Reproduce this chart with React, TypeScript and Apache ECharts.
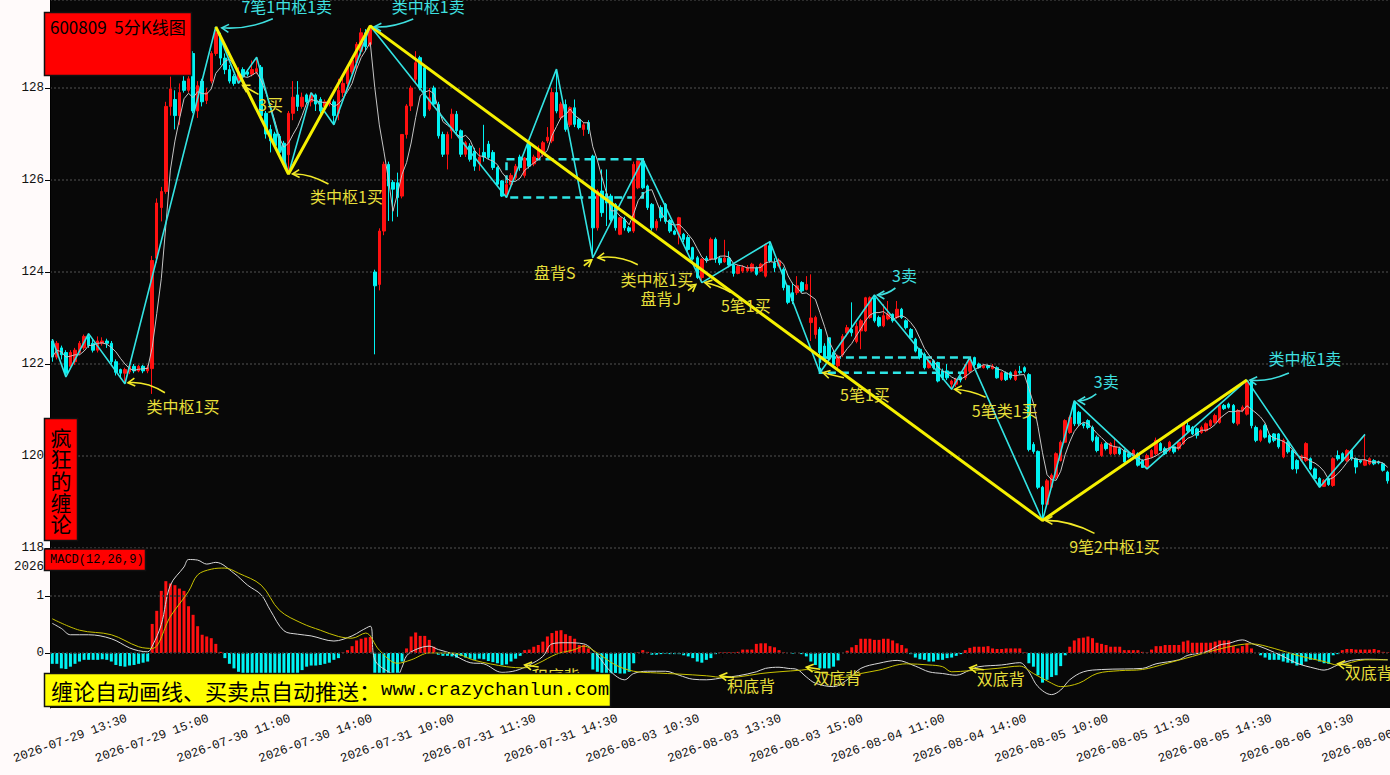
import React, { useEffect, useRef } from 'react';
import * as echarts from 'echarts';

// ---------- categories (5-minute bars) ----------
const tradingDays = ['2026-07-29', '2026-07-30', '2026-07-31', '2026-08-03', '2026-08-04', '2026-08-05', '2026-08-06'];
const firstBarTime = '13:10';
const lastBarTime = '13:40';
function hm(m: number) {
  const h = Math.floor(m / 60);
  const mm = m % 60;
  return `${String(h).padStart(2, '0')}:${String(mm).padStart(2, '0')}`;
}
const sessionTimes: string[] = [];
for (let m = 9 * 60 + 35; m <= 11 * 60 + 30; m += 5) sessionTimes.push(hm(m));
for (let m = 13 * 60 + 5; m <= 15 * 60; m += 5) sessionTimes.push(hm(m));
const categories: string[] = [];
tradingDays.forEach((d, di) => {
  sessionTimes.forEach((t) => {
    if (di === 0 && t < firstBarTime) return;
    if (di === tradingDays.length - 1 && t > lastBarTime) return;
    categories.push(`${d} ${t}`);
  });
});
const labelStart = 4;
const labelEvery = 18;

// ---------- candles: [open, close, low, high] ----------
const ohlc: number[][] = [
  [122.5,122.15,122.05,122.54],[122.15,122.45,122.1,122.5],[122.35,122.2,122.1,122.4],[122.25,121.8,121.72,122.3],
  [121.95,122.25,121.9,122.3],[122.05,122.3,121.98,122.35],[122.25,122.45,122.2,122.5],[122.35,122.6,122.3,122.64],
  [122.6,122.4,122.35,122.66],[122.45,122.3,122.25,122.55],[122.3,122.5,122.25,122.6],[122.45,122.5,122.4,122.58],
  [122.5,122.45,122.35,122.55],[122.45,122.05,122.0,122.5],[122.05,121.82,121.75,122.1],[121.88,121.8,121.7,121.9],
  [121.8,121.88,121.57,121.92],[121.83,121.95,121.78,122.0],[121.95,121.85,121.8,122.0],[121.85,121.95,121.82,121.98],
  [121.95,121.85,121.8,121.98],[121.85,121.92,121.8,121.98],[121.9,124.25,121.35,124.35],[124.3,125.5,124.2,125.6],
  [125.4,125.75,125.1,125.85],[125.75,127.6,125.7,127.7],[127.6,127.98,127.4,128.25],[127.75,127.4,127.1,127.95],
  [127.4,127.9,127.2,128.1],[128.15,127.95,127.9,128.3],[127.95,128.2,127.9,128.45],[128.75,127.5,127.45,128.8],
  [127.5,128.05,127.35,128.15],[128.15,127.7,127.6,128.2],[127.73,127.9,127.65,128.0],[128.15,128.75,128.1,128.8],
  [128.75,129.2,128.7,129.33],[129.1,128.65,128.5,129.2],[128.65,128.4,128.3,128.75],[128.4,128.15,128.1,128.5],
  [128.25,128.1,128.05,128.3],[128.15,128.35,128.1,128.45],[128.4,128.25,128.2,128.45],[128.35,128.3,128.25,128.4],
  [128.3,128.4,128.25,128.6],[128.35,128.42,128.3,128.67],[128.45,127.4,127.3,128.5],[127.45,127.0,126.9,127.5],
  [127.1,126.85,126.6,127.2],[127.0,126.75,126.7,127.05],[126.95,126.6,126.5,127.0],[126.8,126.35,126.3,126.85],
  [126.55,127.45,126.13,127.5],[127.45,127.8,127.3,128.15],[127.85,127.6,127.5,128.15],[127.6,127.8,127.55,127.9],
  [127.85,127.7,127.65,127.88],[127.7,127.85,127.6,127.9],[127.85,127.65,127.5,127.88],[127.75,127.5,127.4,127.8],
  [127.6,127.7,127.55,127.75],[127.65,127.72,127.6,127.78],[127.7,127.4,127.2,127.75],[127.45,127.95,127.3,128.2],
  [127.9,128.1,127.8,128.3],[128.1,128.45,128.0,128.5],[128.35,128.6,128.3,128.65],[128.55,128.95,128.4,129.0],
  [128.8,129.2,128.7,129.3],[129.2,128.9,128.8,129.28],[128.95,129.3,128.9,129.35],[124.0,123.7,122.21,124.05],
  [123.73,124.89,123.6,124.95],[124.89,126.34,124.8,126.4],[126.34,125.87,125.11,126.4],[125.95,125.8,125.1,126.0],
  [125.94,125.62,125.2,126.16],[125.65,126.99,125.6,127.0],[126.99,127.61,126.9,127.65],[127.61,128.0,127.5,128.05],
  [128.19,128.55,128.1,128.8],[128.66,128.0,127.95,128.7],[128.44,127.39,127.35,128.5],[127.54,127.79,127.5,128.0],
  [128.0,127.65,127.6,128.05],[127.64,126.96,126.9,127.7],[126.99,126.56,126.5,127.05],[126.56,126.99,126.23,127.05],
  [127.07,127.43,126.9,127.55],[127.43,127.07,127.0,127.5],[127.07,126.56,126.5,127.1],[126.56,126.81,126.5,126.85],
  [126.74,126.45,126.4,126.8],[126.63,126.3,126.2,126.7],[126.35,126.5,126.2,126.7],[126.6,126.5,126.4,127.2],
  [126.78,126.49,126.45,126.85],[126.6,126.27,126.22,126.65],[126.27,125.91,125.88,126.3],[125.98,125.65,125.63,126.0],
  [125.68,125.9,125.62,126.0],[125.9,126.1,125.85,126.15],[126.05,126.3,126.0,126.35],[126.5,126.27,126.2,126.55],
  [126.1,126.48,126.05,126.5],[126.78,126.3,126.25,126.8],[126.35,126.5,126.3,126.55],[126.49,126.67,126.45,126.75],
  [126.56,126.81,126.5,126.85],[126.85,126.93,126.8,127.15],[126.85,127.9,126.8,128.0],[127.9,127.5,127.45,128.41],
  [127.35,127.65,127.3,127.7],[127.64,127.1,127.05,127.75],[127.2,127.57,127.15,127.6],[127.57,127.21,127.15,127.75],
  [127.32,127.14,127.1,127.35],[127.1,127.2,126.96,127.25],[127.25,127.1,127.0,127.3],[126.52,124.96,124.31,126.55],
  [124.96,125.76,124.9,125.8],[125.76,125.29,125.2,126.23],[125.7,125.5,125.0,126.23],[125.65,125.14,125.1,125.7],
  [125.47,124.96,124.9,125.5],[124.82,125.18,124.8,125.2],[125.14,124.96,124.9,125.2],[124.96,124.89,124.85,125.0],
  [124.89,126.34,124.85,126.4],[125.83,126.41,125.8,126.42],[126.41,125.83,125.8,126.45],[125.87,125.4,125.35,125.9],
  [125.47,124.96,124.9,125.5],[124.96,125.1,124.9,125.15],[125.4,125.18,125.1,125.45],[125.47,125.1,125.05,125.5],
  [125.12,124.89,124.85,125.15],[124.89,124.82,124.8,124.92],[124.82,125.18,124.6,125.2],[124.82,124.71,124.65,124.85],
  [124.75,124.49,124.45,124.8],[124.53,124.28,124.25,124.55],[124.31,123.88,123.85,124.35],[123.88,124.28,123.77,124.3],
  [124.3,124.25,124.2,124.35],[124.28,124.71,124.25,124.75],[124.71,124.28,124.2,124.75],[124.3,124.2,124.15,124.35],
  [124.22,124.3,124.2,124.7],[124.3,124.15,124.1,124.45],[124.15,123.97,123.9,124.2],[123.97,124.12,123.95,124.15],
  [124.02,124.1,123.98,124.15],[124.03,124.1,124.0,124.15],[124.02,124.17,124.0,124.2],[124.09,123.95,123.92,124.12],
  [124.02,124.17,124.0,124.2],[123.91,124.6,123.88,124.62],[124.57,124.24,124.2,124.66],[124.2,124.09,124.0,124.3],
  [124.13,124.24,124.1,124.3],[124.06,123.66,123.6,124.1],[123.7,123.34,123.3,123.72],[123.55,123.37,123.3,123.77],
  [123.55,123.7,123.5,123.91],[123.77,123.59,123.55,123.8],[123.62,123.73,123.6,123.91],[122.9,123.0,122.5,123.95],
  [122.64,123.01,122.55,123.05],[122.75,122.25,121.81,122.8],[122.39,122.11,122.05,122.45],[122.57,122.11,122.05,122.57],
  [122.25,121.99,121.95,122.3],[121.96,122.17,121.9,122.2],[122.2,122.6,122.15,122.65],[122.68,122.79,122.6,122.85],
  [122.75,122.68,122.6,123.34],[122.49,122.82,122.45,122.9],[122.72,122.94,122.32,122.98],[122.72,123.44,122.7,123.46],
  [123.01,123.44,122.98,123.47],[123.44,122.94,122.9,123.5],[123.01,122.83,122.8,123.05],[122.83,123.05,122.8,123.3],
  [122.98,123.08,122.95,123.37],[123.08,122.94,122.9,123.1],[123.01,123.19,122.98,123.37],[123.19,123.01,122.98,123.22],
  [122.94,122.79,122.75,122.97],[122.75,122.57,122.55,122.78],[122.54,122.28,122.25,122.57],[122.32,122.14,122.1,122.35],
  [122.21,121.92,121.88,122.25],[121.92,122.07,121.9,122.1],[122.07,121.92,121.88,122.1],[122.03,121.63,121.6,122.05],
  [121.85,121.7,121.65,121.9],[121.85,121.7,121.65,122.0],[121.56,121.63,121.45,121.66],[121.56,121.67,121.5,121.7],
  [121.72,121.65,121.6,121.75],[121.7,121.99,121.65,122.0],[121.85,122.07,121.8,122.14],[122.14,121.99,121.95,122.16],
  [122.0,121.92,121.9,122.03],[121.92,121.96,121.9,122.0],[121.96,121.92,121.88,121.99],[121.9,121.95,121.88,122.0],
  [121.92,121.7,121.68,121.95],[121.66,121.81,121.63,121.84],[121.81,121.66,121.63,121.84],[121.81,121.7,121.66,121.84],
  [121.66,121.84,121.63,121.88],[121.84,121.81,121.77,121.96],[121.92,121.84,121.8,121.95],[121.77,120.14,120.1,121.8],
  [120.25,120.1,120.05,120.3],[120.1,119.32,119.28,120.12],[119.32,118.95,118.6,119.35],[118.95,119.46,118.9,119.5],
  [119.32,119.58,119.3,119.62],[119.54,120.05,119.5,120.08],[119.9,120.3,119.88,120.34],[120.3,120.77,120.28,120.8],
  [120.51,120.84,120.48,120.88],[121.17,120.7,120.65,121.2],[120.95,120.7,120.65,120.98],[120.7,120.66,120.6,120.73],
  [120.77,120.62,120.58,120.8],[120.62,120.34,120.3,120.66],[120.41,120.12,120.08,120.45],[120.01,120.25,119.98,120.3],
  [120.27,120.16,120.12,120.3],[120.05,120.27,120.02,120.3],[120.05,120.2,120.02,120.38],[120.16,120.05,120.02,120.2],
  [120.12,119.87,119.84,120.15],[120.05,119.98,119.95,120.08],[120.01,120.12,119.98,120.15],[120.05,119.8,119.77,120.08],
  [119.9,119.75,119.74,119.93],[119.76,120.01,119.72,120.05],[119.98,120.12,119.95,120.15],[120.05,120.34,120.02,120.4],
  [120.27,120.12,120.1,120.3],[120.16,120.05,120.02,120.2],[120.12,120.3,120.08,120.33],[120.2,120.09,120.05,120.23],
  [120.16,120.3,120.12,120.34],[120.27,120.7,120.24,120.73],[120.66,120.55,120.5,120.73],[120.62,120.48,120.45,120.65],
  [120.59,120.45,120.38,120.62],[120.51,120.62,120.48,120.66],[120.55,120.7,120.52,120.73],[120.66,120.77,120.62,120.8],
  [120.73,120.88,120.7,120.92],[120.73,121.1,120.7,121.13],[121.1,121.03,121.0,121.13],[121.13,121.06,121.03,121.16],
  [121.1,120.73,120.7,121.13],[120.7,120.99,120.66,121.02],[120.99,121.06,120.95,121.1],[120.91,121.63,120.88,121.65],
  [121.63,120.66,120.6,121.65],[120.62,120.34,120.3,120.66],[120.34,120.55,120.3,120.58],[120.66,120.41,120.38,120.7],
  [120.45,120.3,120.27,120.48],[120.48,120.34,120.3,120.5],[120.48,120.2,120.16,120.5],[119.98,120.34,119.95,120.38],
  [120.3,120.09,120.05,120.33],[120.12,119.72,119.7,120.15],[119.9,119.72,119.62,119.93],[119.9,120.0,119.87,120.03],
  [119.9,120.27,119.87,120.3],[119.94,119.72,119.69,119.97],[119.72,119.51,119.48,119.75],[119.51,119.35,119.32,119.54],
  [119.34,119.47,119.33,119.5],[119.51,119.38,119.35,119.54],[119.36,119.94,119.33,119.97],[120.01,119.94,119.9,120.12],
  [120.05,119.9,119.87,120.08],[119.9,120.12,119.87,120.15],[120.12,119.94,119.9,120.14],[119.94,119.76,119.62,119.97],
  [119.9,119.87,119.84,119.92],[119.8,119.9,119.78,120.47],[119.83,119.94,119.8,119.97],[119.9,119.83,119.8,119.93],
  [119.87,119.85,119.82,119.9],[119.83,119.69,119.66,119.86],[119.65,119.46,119.4,119.68],
];

// ---------- Chan-theory strokes (笔), segments (线段), centres (中枢) ----------
const biPoints: [number, number][] = [
  [0,122.54],[3,121.72],[8,122.66],[16,121.57],[36,129.33],[41,128.1],[45,128.67],[52,126.13],[57,127.9],[62,127.2],
  [70,129.35],[100,125.62],[111,128.41],[119,124.31],[130,126.45],[143,123.77],[158,124.66],[169,121.81],[181,123.5],
  [198,121.45],[202,122.14],[218,118.6],[225,121.2],[241,119.72],[263,121.65],[279,119.32],[289,120.47],
];
const segPoints: [number, number][] = [[36,129.33],[52,126.13],[70,129.35],[218,118.6],[263,121.65]];
const centerFrom = [100, 169];
const centerTo = [130, 202];
const centerLow = [125.62, 121.81];
const centerHigh = [126.45, 122.14];

// ---------- MACD(12,26,9) ----------
const macdHist: number[] = [
  -0.19,-0.19,-0.27,-0.28,-0.24,-0.19,-0.15,-0.12,-0.12,-0.12,-0.12,-0.11,-0.12,-0.15,-0.21,-0.23,-0.24,-0.22,-0.21,-0.19,-0.17,-0.15,
  0.51,0.74,1.09,1.26,1.22,1.19,1.13,1.09,0.82,0.67,0.47,0.32,0.29,0.26,0.16,0.02,
  -0.09,-0.19,-0.27,-0.33,-0.38,-0.42,-0.44,-0.46,-0.48,-0.48,-0.47,-0.45,-0.43,-0.4,-0.38,-0.36,-0.35,-0.3,-0.24,-0.22,-0.22,-0.21,-0.19,-0.17,-0.12,-0.09,
  0.01,0.05,0.12,0.22,0.25,0.27,0.28,
  -0.35,-0.5,-0.52,-0.48,-0.42,-0.35,-0.15,
  0.08,0.29,0.36,0.3,0.3,0.23,0.11,
  -0.03,-0.05,-0.05,-0.06,-0.08,-0.05,
  -0.08,-0.1,-0.12,-0.1,-0.11,-0.14,-0.16,-0.18,-0.21,-0.2,-0.15,-0.1,-0.05,
  0.05,0.06,0.11,0.14,0.2,0.29,0.35,0.39,0.4,0.33,0.3,0.25,0.14,0.14,0.08,
  -0.29,-0.33,-0.36,-0.39,-0.36,-0.35,-0.36,-0.36,-0.33,-0.18,
  0.01,0.05,0.02,
  -0.03,-0.03,-0.02,-0.01,-0.02,-0.02,-0.02,
  -0.04,-0.06,-0.09,-0.15,-0.17,-0.12,-0.09,-0.02,
  0.01,0.01,0.01,0.01,
  0.02,0.06,0.06,0.06,0.16,0.17,0.17,0.12,0.1,0.05,
  0.01,0.0,-0.01,0.0,-0.02,
  -0.06,-0.15,-0.21,-0.27,-0.27,-0.27,-0.24,-0.13,
  0.0,0.04,0.1,0.14,0.25,0.25,0.25,0.23,0.23,0.25,0.25,0.22,0.17,0.14,0.08,
  -0.02,-0.08,-0.11,-0.12,-0.15,-0.15,-0.12,-0.12,-0.09,-0.08,-0.05,-0.02,
  0.05,0.09,0.11,0.11,0.11,0.12,0.08,0.07,0.07,0.08,0.08,0.08,0.08,
  0.01,
  -0.18,-0.24,-0.39,-0.52,-0.47,-0.42,-0.39,-0.23,-0.04,
  0.11,0.22,0.26,0.27,0.29,0.26,0.18,0.16,0.14,0.11,0.11,0.11,0.05,0.05,0.05,0.05,0.02,0.01,0.06,0.12,
  0.12,0.14,0.14,0.14,0.14,0.2,0.22,0.18,0.18,0.18,0.18,0.18,0.2,0.22,0.22,0.22,0.12,0.08,0.12,0.17,0.08,
  0.0,
  -0.04,-0.08,-0.12,-0.12,-0.12,-0.15,-0.17,-0.18,-0.22,-0.21,-0.15,-0.12,-0.12,-0.15,-0.18,-0.19,-0.04,-0.02,
  0.05,0.07,0.07,0.06,0.06,0.06,0.06,0.07,0.05,0.02,
  0.01,
];
const difPoints: [number, number][] = [
  [0,0.52],[2,0.43],[4,0.32],[8,0.32],[13,0.25],[17,0.09],[19,0.04],[21,0.02],[22,0.12],[24,0.5],[26,1.19],[29,1.51],
  [30,1.64],[32,1.63],[34,1.56],[36,1.59],[40,1.4],[43,1.19],[46,1.02],[48,0.75],[51,0.39],[54,0.33],[57,0.3],[62,0.21],
  [66,0.3],[68,0.39],[70,0.47],[71,-0.12],[74,-0.33],[76,-0.38],[77,-0.25],[78,-0.05],[80,0.06],[83,0.12],[85,0.06],
  [88,-0.01],[89,-0.06],[92,-0.17],[95,-0.19],[99,-0.34],[102,-0.31],[105,-0.21],[108,-0.06],[110,0.16],[113,0.18],
  [117,0.16],[120,-0.04],[123,-0.33],[126,-0.47],[128,-0.36],[131,-0.32],[135,-0.32],[138,-0.39],[141,-0.46],[144,-0.47],
  [148,-0.43],[151,-0.4],[155,-0.33],[157,-0.27],[160,-0.25],[162,-0.27],[164,-0.29],[166,-0.42],[168,-0.53],[172,-0.59],
  [175,-0.47],[178,-0.27],[182,-0.18],[186,-0.13],[190,-0.23],[193,-0.33],[196,-0.36],[199,-0.39],[202,-0.3],[204,-0.24],
  [209,-0.21],[213,-0.17],[215,-0.33],[217,-0.59],[220,-0.73],[222,-0.65],[224,-0.47],[227,-0.33],[231,-0.29],[236,-0.28],
  [240,-0.27],[243,-0.19],[248,-0.12],[250,-0.04],[254,0.02],[257,0.14],[259,0.17],[262,0.23],[264,0.17],[267,0.08],
  [271,-0.06],[274,-0.18],[278,-0.27],[280,-0.3],[283,-0.21],[286,-0.13],[290,-0.11],[294,-0.12],
];
const deaPoints: [number, number][] = [
  [0,0.6],[6,0.4],[13,0.32],[19,0.11],[22,0.08],[26,0.64],[30,1.08],[32,1.37],[35,1.47],[38,1.49],[41,1.4],[46,1.19],
  [50,0.75],[55,0.52],[59,0.4],[63,0.29],[66,0.26],[69,0.35],[72,0.05],[76,-0.18],[79,-0.12],[83,0.0],[88,0.0],
  [93,-0.13],[100,-0.24],[104,-0.26],[107,-0.18],[111,-0.02],[115,0.06],[117,0.12],[120,0.0],[124,-0.21],[128,-0.32],
  [133,-0.35],[138,-0.37],[144,-0.4],[148,-0.43],[151,-0.42],[156,-0.36],[160,-0.33],[165,-0.3],[166,-0.29],[170,-0.36],
  [174,-0.43],[178,-0.36],[182,-0.3],[188,-0.19],[193,-0.21],[196,-0.24],[198,-0.33],[202,-0.31],[208,-0.27],[213,-0.23],
  [216,-0.36],[220,-0.53],[222,-0.59],[226,-0.53],[230,-0.36],[235,-0.31],[240,-0.29],[245,-0.19],[251,-0.06],[256,0.05],
  [261,0.14],[264,0.16],[269,0.08],[274,-0.04],[280,-0.15],[283,-0.21],[289,-0.12],[294,-0.12],
];

// ---------- annotations (anchor in data coords; offsets in px) ----------
type Ann = {
  text: string; color: string; grid: number; at: [number, number];
  t: [number, number]; tail: [number, number]; head: [number, number]; ctrl?: [number, number];
};
const YEL = '#e6df3a';
const YEL_ARROW = '#f2ea28';
const CYA = '#3fe0e0';
const annotations: Ann[] = [
  { text: '7笔1中枢1卖', color: CYA, grid: 0, at: [36, 129.33], t: [71, -21], tail: [57, -8], ctrl: [32, 3], head: [6, 1] },
  { text: '类中枢1卖', color: CYA, grid: 0, at: [70, 129.35], t: [58, -20], tail: [43, -7], ctrl: [22, 2], head: [4, 1] },
  { text: '3买', color: YEL, grid: 0, at: [41, 128.1], t: [32, 21], tail: [20, 11], head: [4, 2] },
  { text: '类中枢1买', color: YEL, grid: 0, at: [52, 126.13], t: [58, 22], tail: [40, 10], ctrl: [20, -1], head: [4, 0] },
  { text: '类中枢1买', color: YEL, grid: 0, at: [16, 121.57], t: [58, 22], tail: [40, 9], ctrl: [21, -3], head: [3, -1] },
  { text: '盘背S', color: YEL, grid: 0, at: [119, 124.31], t: [-38, 14], tail: [-9, 8], head: [-1, 2] },
  { text: '类中枢1买', color: YEL, grid: 0, at: [119, 124.31], t: [64, 21], tail: [45, 7], ctrl: [26, -3], head: [5, 0] },
  { text: '盘背J', color: YEL, grid: 0, at: [143, 123.77], t: [-41, 15], tail: [-14, 8], head: [-6, 2] },
  { text: '5笔1买', color: YEL, grid: 0, at: [143, 123.77], t: [44, 22], tail: [29, 10], ctrl: [17, 3], head: [3, 0] },
  { text: '3卖', color: CYA, grid: 0, at: [181, 123.5], t: [30, -20], tail: [21, -7], ctrl: [12, 0], head: [3, 0] },
  { text: '5笔1买', color: YEL, grid: 0, at: [169, 121.81], t: [45, 21], tail: [24, 5], head: [3, 0] },
  { text: '5笔类1买', color: YEL, grid: 0, at: [198, 121.45], t: [53, 21], tail: [34, 8], ctrl: [19, 1], head: [3, 0] },
  { text: '3卖', color: CYA, grid: 0, at: [225, 121.2], t: [32, -20], tail: [22, -7], ctrl: [13, 0], head: [4, 0] },
  { text: '9笔2中枢1买', color: YEL, grid: 0, at: [218, 118.6], t: [72, 26], tail: [52, 13], ctrl: [27, 0], head: [3, 0] },
  { text: '类中枢1卖', color: CYA, grid: 0, at: [263, 121.65], t: [58, -22], tail: [42, -7], ctrl: [22, 2], head: [3, 0] },
  { text: '积底背', color: YEL, grid: 1, at: [104, -0.21], t: [31, 10], tail: [14, 2], head: [0, 0] },
  { text: '积底背', color: YEL, grid: 1, at: [147, -0.4], t: [31, 9], tail: [14, 2], head: [0, 0] },
  { text: '双底背', color: YEL, grid: 1, at: [166, -0.25], t: [31, 10], tail: [14, 2], head: [0, 0] },
  { text: '双底背', color: YEL, grid: 1, at: [202, -0.26], t: [31, 10], tail: [14, 2], head: [0, 0] },
  { text: '双底背', color: YEL, grid: 1, at: [283, -0.19], t: [31, 8], tail: [14, 2], head: [0, 0] },
];

const CJK = '"Noto Sans CJK SC", "Noto Sans", sans-serif';
const MONO = '"Liberation Mono", "DejaVu Sans Mono", monospace';

function showLabel(index: number) {
  return index >= labelStart && (index - labelStart) % labelEvery === 0;
}

export default function App() {
  const ref = useRef<HTMLDivElement>(null);
  useEffect(() => {
    document.body.style.margin = '0';
    if (!ref.current) return;
    const chart = echarts.init(ref.current, undefined, { renderer: 'svg' });
    const n = Math.min(categories.length, ohlc.length);
    const cats = categories.slice(0, n);
    const candles = ohlc.slice(0, n);
    const closes = candles.map((r) => r[1]);
    const ma5 = closes.map((_, i) => {
      const s = closes.slice(Math.max(0, i - 4), i + 1);
      return +(s.reduce((a, b) => a + b, 0) / s.length).toFixed(3);
    });

    const option: any = {
      animation: false,
      backgroundColor: 'transparent',
      grid: [
        { left: 50, right: 0, top: 0, height: 548, outerBoundsMode: 'none', containLabel: false },
        { left: 50, right: 0, top: 548, height: 160, outerBoundsMode: 'none', containLabel: false },
      ],
      xAxis: [
        {
          type: 'category', gridIndex: 0, data: cats,
          axisLine: { show: false }, axisTick: { show: false }, axisLabel: { show: false }, splitLine: { show: false },
        },
        {
          type: 'category', gridIndex: 1, data: cats,
          axisLine: { show: true, lineStyle: { color: '#000', width: 1 } },
          axisTick: { show: true, interval: (i: number) => showLabel(i), length: 5, lineStyle: { color: '#000' } },
          axisLabel: {
            interval: (i: number) => showLabel(i), rotate: 20, align: 'center', verticalAlign: 'middle', margin: 31,
            color: '#111', fontSize: 12.5, fontFamily: MONO,
          },
          splitLine: { show: false },
        },
      ],
      yAxis: [
        {
          type: 'value', gridIndex: 0, min: 118, max: 129.913, interval: 2, position: 'left',
          axisLine: { show: true, lineStyle: { color: '#000' } },
          axisTick: { show: true, length: 5, lineStyle: { color: '#000' } },
          axisLabel: { color: '#111', fontSize: 12.5, fontFamily: MONO, margin: 6, showMaxLabel: false },
          splitLine: { show: true, lineStyle: { color: '#3a3a3a', type: [2, 2], width: 1.5 } },
        },
        {
          type: 'value', gridIndex: 1, min: -0.965, max: 1.842, position: 'left',
          axisLine: { show: true, lineStyle: { color: '#000' } },
          axisTick: { show: true, length: 5, customValues: [0, 1, 1.5], lineStyle: { color: '#000' } },
          axisLabel: {
            customValues: [0, 1, 1.5], color: '#111', fontSize: 12.5, fontFamily: MONO, margin: 6,
            formatter: (v: number) => (Math.abs(v - 1.5) < 1e-6 ? '2026' : String(Math.round(v))),
          },
          splitLine: { show: false },
        },
      ],
      series: [
        {
          type: 'candlestick', xAxisIndex: 0, yAxisIndex: 0, data: candles, barWidth: 3, z: 2,
          itemStyle: { color: '#ff1010', color0: '#00f2f2', borderColor: '#ff1010', borderColor0: '#00f2f2', borderWidth: 1 },
          markArea: {
            silent: true,
            itemStyle: { color: 'rgba(0,0,0,0)', borderColor: '#2ee6e6', borderWidth: 2.5, borderType: [8, 5] },
            data: centerFrom.map((f, k) => [
              { coord: [f, centerHigh[k]] },
              { coord: [centerTo[k], centerLow[k]] },
            ]),
          },
        },
        {
          type: 'line', xAxisIndex: 0, yAxisIndex: 0, data: ma5, symbol: 'none', z: 3,
          lineStyle: { color: '#c4c4c4', width: 1 },
        },
        {
          type: 'line', xAxisIndex: 0, yAxisIndex: 0, data: biPoints, symbol: 'none', z: 4,
          lineStyle: { color: '#33e3e3', width: 1.6 },
        },
        {
          type: 'line', xAxisIndex: 0, yAxisIndex: 0, data: segPoints, symbol: 'none', z: 5,
          lineStyle: { color: '#f5f000', width: 3 },
        },
        {
          type: 'bar', xAxisIndex: 1, yAxisIndex: 1, data: macdHist.slice(0, n), barWidth: 3, z: 2,
          itemStyle: { color: (p: any) => (p.value >= 0 ? '#ff1010' : '#00f2f2') },
          markLine: {
            silent: true, symbol: 'none', label: { show: false },
            lineStyle: { color: '#3a3a3a', type: [2, 2], width: 1.5 },
            data: [{ yAxis: 0 }, { yAxis: 1 }],
          },
        },
        {
          type: 'line', xAxisIndex: 1, yAxisIndex: 1, data: difPoints, symbol: 'none', smooth: 0.35, z: 3,
          lineStyle: { color: '#d8d8d8', width: 1 },
        },
        {
          type: 'line', xAxisIndex: 1, yAxisIndex: 1, data: deaPoints, symbol: 'none', smooth: 0.35, z: 3,
          lineStyle: { color: '#c9c300', width: 1 },
        },
      ],
    };
    chart.setOption(option);

    const graphics: any[] = [];
    graphics.push({
      type: 'rect', silent: true, z: -100,
      shape: { x: 50, y: 0, width: 1340, height: 708 }, style: { fill: '#080808' },
    });

    annotations.forEach((a) => {
      const p = chart.convertToPixel({ gridIndex: a.grid } as any, a.at) as number[];
      if (!p) return;
      const [px, py] = p;
      const hx = px + a.head[0], hy = py + a.head[1];
      const tx = px + a.tail[0], ty = py + a.tail[1];
      const c = a.ctrl ? [px + a.ctrl[0], py + a.ctrl[1]] : [(hx + tx) / 2, (hy + ty) / 2];
      const arrowColor = a.color === YEL ? YEL_ARROW : a.color;
      graphics.push({
        type: 'bezierCurve', silent: true, z: 50,
        shape: { x1: tx, y1: ty, x2: hx, y2: hy, cpx1: c[0], cpy1: c[1] },
        style: { stroke: arrowColor, lineWidth: 1.6, fill: 'none' },
      });
      let dx = hx - c[0], dy = hy - c[1];
      const len = Math.hypot(dx, dy) || 1;
      dx /= len; dy /= len;
      const L = 8, ang = (30 * Math.PI) / 180;
      const bx = -dx, by = -dy;
      const p1 = [hx + L * (bx * Math.cos(ang) - by * Math.sin(ang)), hy + L * (bx * Math.sin(ang) + by * Math.cos(ang))];
      const p2 = [hx + L * (bx * Math.cos(-ang) - by * Math.sin(-ang)), hy + L * (bx * Math.sin(-ang) + by * Math.cos(-ang))];
      graphics.push({
        type: 'polyline', silent: true, z: 50,
        shape: { points: [p1, [hx, hy], p2] },
        style: { stroke: arrowColor, lineWidth: 1.6, fill: 'none' },
      });
      graphics.push({
        type: 'text', silent: true, z: 51, x: px + a.t[0], y: py + a.t[1],
        style: { text: a.text, fill: a.color, fontSize: 16, fontFamily: CJK, align: 'center', verticalAlign: 'middle' },
      });
    });

    // title box
    graphics.push({
      type: 'rect', silent: true, z: 60,
      shape: { x: 44.5, y: 12.5, width: 147, height: 63 },
      style: { fill: '#ff0000', stroke: '#111', lineWidth: 1.5 },
    });
    graphics.push({
      type: 'text', silent: true, z: 61, x: 50, y: 26,
      style: { text: '600809  5分K线图', fill: '#000', fontSize: 17, fontFamily: CJK, verticalAlign: 'middle' },
    });
    // vertical box
    graphics.push({
      type: 'rect', silent: true, z: 60,
      shape: { x: 44.5, y: 418.5, width: 33, height: 122 },
      style: { fill: '#ff0000', stroke: '#111', lineWidth: 1.5 },
    });
    graphics.push({
      type: 'text', silent: true, z: 61, x: 61, y: 426,
      style: { text: '疯\n狂\n的\n缠\n论', fill: '#000', fontSize: 21, lineHeight: 21.6, fontFamily: CJK, align: 'center', verticalAlign: 'top' },
    });
    // MACD label
    graphics.push({
      type: 'rect', silent: true, z: 60,
      shape: { x: 44.5, y: 549, width: 101, height: 21.5 },
      style: { fill: '#ff0000', stroke: '#111', lineWidth: 1.5 },
    });
    graphics.push({
      type: 'text', silent: true, z: 61, x: 50, y: 560,
      style: { text: 'MACD(12,26,9)', fill: '#000', fontSize: 12, fontFamily: MONO, verticalAlign: 'middle' },
    });
    // promo box
    graphics.push({
      type: 'rect', silent: true, z: 60,
      shape: { x: 44.5, y: 673.5, width: 566, height: 33 },
      style: { fill: '#ffff00', stroke: '#111', lineWidth: 1.5 },
    });
    graphics.push({
      type: 'text', silent: true, z: 61, x: 51, y: 690,
      style: {
        text: '{a|缠论自动画线、买卖点自动推送：}{b|www.crazychanlun.com}',
        verticalAlign: 'middle',
        rich: {
          a: { fontSize: 22, fontFamily: CJK, fill: '#000' },
          b: { fontSize: 19, fontFamily: MONO, fill: '#000' },
        },
      },
    });
    chart.setOption({ graphic: graphics });

    return () => chart.dispose();
  }, []);
  return <div ref={ref} style={{ width: 1390, height: 775, background: '#fffafa' }} />;
}
